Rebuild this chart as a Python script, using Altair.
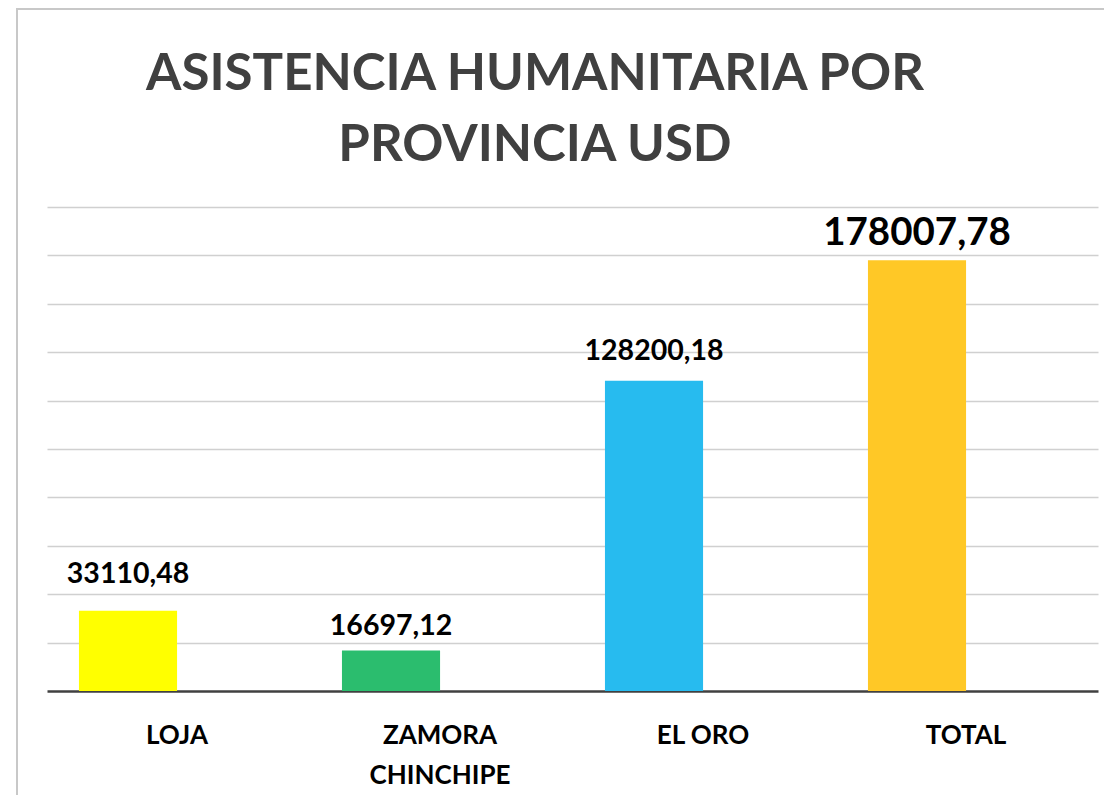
import altair as alt
import pandas as pd

categories = ["LOJA", "ZAMORA CHINCHIPE", "EL ORO", "TOTAL"]
values = [33110.48, 16697.12, 128200.18, 178007.78]
value_labels = ["33110,48", "16697,12", "128200,18", "178007,78"]
title_lines = ["ASISTENCIA HUMANITARIA POR", "PROVINCIA USD"]
bar_colors = ["#FFFF00", "#2BBD6E", "#27BBEF", "#FFC826"]
grid_values = [20000, 40000, 60000, 80000, 100000, 120000, 140000, 160000, 180000, 200000]

df = pd.DataFrame({"cat": categories, "val": values, "lab": value_labels})

FONT = "Lato"
W, H = 1051, 484

x_scale = alt.Scale(domain=categories, paddingInner=0.627, paddingOuter=0.3116, align=0.195)
y_scale = alt.Scale(domain=[0, 200000], nice=False)

base = alt.Chart(df)

bars = base.mark_bar().encode(
    x=alt.X("cat:N", scale=x_scale, sort=categories,
            axis=alt.Axis(title=None, labelAngle=0, ticks=False, tickSize=0,
                          domain=True, domainColor="#404040", domainWidth=2.5,
                          labelFont=FONT, labelFontSize=26, labelFontWeight="bold",
                          labelColor="#000000", labelPadding=31, labelOffset=49,
                          labelLineHeight=40, labelBaseline="top",
                          labelExpr="datum.label == 'ZAMORA CHINCHIPE' ? ['ZAMORA', 'CHINCHIPE'] : datum.label",
                          grid=False)),
    y=alt.Y("val:Q", scale=y_scale,
            axis=alt.Axis(title=None, labels=False, ticks=False, domain=False,
                          grid=True, values=grid_values, gridColor="#d0d0d0", gridWidth=1.3)),
    color=alt.Color("cat:N", scale=alt.Scale(domain=categories, range=bar_colors), legend=None),
)

label_dy = {"LOJA": -28, "ZAMORA CHINCHIPE": -16, "EL ORO": -21, "TOTAL": -15}
label_size = {"LOJA": 28.5, "ZAMORA CHINCHIPE": 28.5, "EL ORO": 28.5, "TOTAL": 38.5}

text_layers = []
for c in categories:
    t = base.transform_filter(alt.datum.cat == c).mark_text(
        font=FONT, fontWeight="bold", fontSize=label_size[c], color="#000000",
        baseline="alphabetic", align="center", dy=label_dy[c]
    ).encode(
        x=alt.X("cat:N", scale=x_scale, sort=categories),
        y=alt.Y("val:Q", scale=y_scale),
        text="lab:N",
    )
    text_layers.append(t)

frame = alt.Chart(alt.Data(values=[{"a": 1}])).mark_rect(
    filled=False, stroke="#c8c8c8", strokeWidth=2
).encode(
    x=alt.value(-30), x2=alt.value(1100), y=alt.value(-198), y2=alt.value(620)
)

title_layers = []
for i, line in enumerate(title_lines):
    title_layers.append(
        alt.Chart(alt.Data(values=[{"t": line}])).mark_text(
            font=FONT, fontWeight="bold", fontSize=51, color="#404040",
            align="center", baseline="alphabetic"
        ).encode(
            text="t:N", x=alt.value(488), y=alt.value(-117 + 71 * i)
        )
    )

chart = alt.layer(frame, bars, *text_layers, *title_layers).properties(
    width=W, height=H,
    autosize=alt.AutoSizeParams(type="none"),
    padding={"left": 39, "top": 199, "right": 6, "bottom": 104},
).configure(
    background="white",
    view=alt.ViewConfig(stroke="transparent", strokeWidth=0),
)

chart.save("out.html", embed_options={"renderer": "svg", "actions": False})
